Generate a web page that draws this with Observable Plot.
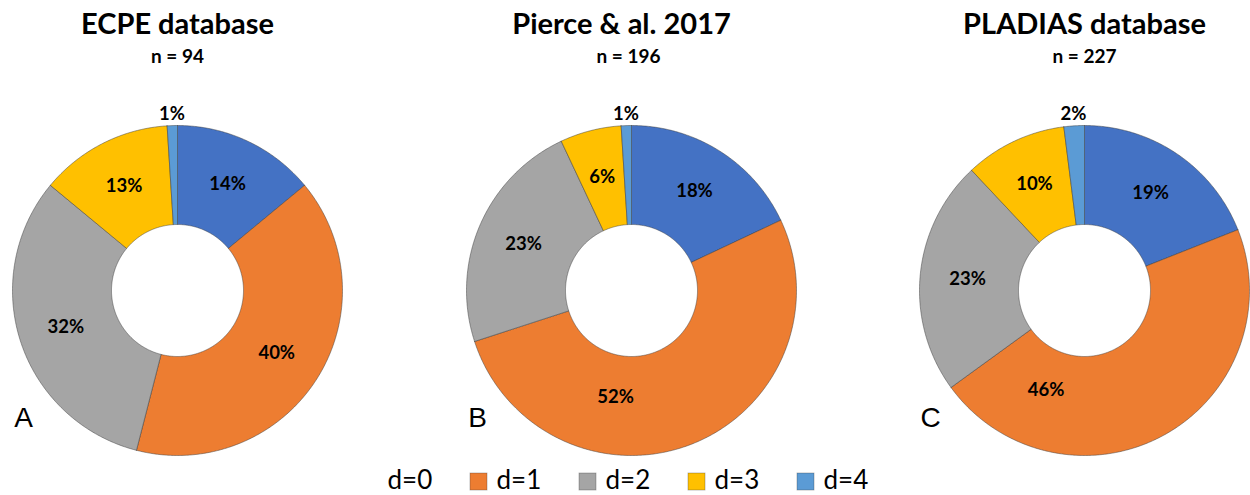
<!DOCTYPE html>
<html>
<head>
<meta charset="utf-8">
<script src="https://cdn.jsdelivr.net/npm/d3@7"></script>
<script src="https://cdn.jsdelivr.net/npm/@observablehq/plot@0.6"></script>
<style>
  html, body { margin: 0; padding: 0; background: #fff; }
  #chart { width: 1250px; height: 495px; }
</style>
</head>
<body>
<div id="chart"></div>
<script>
// ---- data ----
const panelTitles = ["ECPE database", "Pierce & al. 2017", "PLADIAS database"];
const sampleSizes = [94, 196, 227];
const panelLetters = ["A", "B", "C"];
const categories = ["d=0", "d=1", "d=2", "d=3", "d=4"];
const colors = ["#4472C4", "#ED7D31", "#A5A5A5", "#FFC000", "#5B9BD5"];
const ecpeShares = [14, 40, 32, 13, 1];
const pierceShares = [18, 52, 23, 6, 1];
const pladiasShares = [19, 46, 23, 10, 2];

// ---- layout (not data) ----
const W = 1250, H = 495;
const centersX = [177, 631, 1084];
const titleX = [177, 621, 1084];
const cy = 290, R = 165, R0 = 66;
// manual label angle overrides (deg clockwise from top) for moved labels
const labelOverride = {"1-1": {a: 188.5, r: 108}, "2-1": {a: 201, r: 107}};

const seriesList = [ecpeShares, pierceShares, pladiasShares];
const rad = Math.PI / 180;
const pt = (cx, a, r) => [cx + r * Math.sin(a * rad), cy - r * Math.cos(a * rad)];

const slicePts = [];
const labels = [];
seriesList.forEach((vals, p) => {
  const total = d3.sum(vals);
  const cx = centersX[p];
  let acc = 0;
  vals.forEach((v, i) => {
    const a0 = acc / total * 360;
    acc += v;
    const a1 = acc / total * 360;
    const id = p + "-" + i;
    const n = Math.max(2, Math.ceil((a1 - a0) / 0.5));
    const ring = [];
    for (let k = 0; k <= n; k++) ring.push(pt(cx, a0 + (a1 - a0) * k / n, R));
    for (let k = n; k >= 0; k--) ring.push(pt(cx, a0 + (a1 - a0) * k / n, R0));
    ring.push(ring[0]);
    ring.forEach(([x, y]) => slicePts.push({id, key: categories[i], x, y}));
    const mid = (a0 + a1) / 2;
    let lp;
    if (v < 3) lp = pt(cx, mid, R + 12);
    else if (labelOverride[id]) lp = pt(cx, labelOverride[id].a, labelOverride[id].r);
    else lp = pt(cx, mid, (R + R0) / 2 + 2);
    labels.push({x: lp[0], y: lp[1], text: v + "%"});
  });
});

const titles = panelTitles.map((t, p) => ({x: titleX[p], t}));
const subs = sampleSizes.map((n, p) => ({x: centersX[p] - (p === 1 ? 3 : 0), t: "n = " + n}));
const letters = panelLetters.map((l, p) => ({x: centersX[p] - 154, t: l}));

const legendX0 = 361, legendStep = 109;
const legendItems = categories.map((c, i) => ({key: c, x: legendX0 + i * legendStep}));

const chart = Plot.plot({
  width: W, height: H, margin: 0,
  style: {fontFamily: "Lato, 'Open Sans', sans-serif", background: "#fff"},
  x: {domain: [0, W], range: [0, W], axis: null},
  y: {domain: [0, H], range: [0, H], axis: null},
  color: {domain: categories, range: colors},
  marks: [
    Plot.line(slicePts, {x: "x", y: "y", z: "id", fill: "key", stroke: "#3d3d3d", strokeOpacity: 0.55, strokeWidth: 0.9, strokeLinejoin: "round", curve: "linear"}),
    Plot.text(labels, {x: "x", y: "y", text: "text", fontSize: 18.5, fontWeight: "bold", fill: "#000"}),
    Plot.text(titles, {x: "x", y: 24, text: "t", fontSize: 29, fontWeight: "bold", fill: "#000"}),
    Plot.text(subs, {x: "x", y: 56, text: "t", fontSize: 19, fontWeight: "bold", fill: "#000"}),
    Plot.text(letters, {x: "x", y: 418, text: "t", fontSize: 28, fontFamily: "'Liberation Sans', Arial, sans-serif", fill: "#000"}),
    Plot.rect(legendItems.filter(d => d.key !== "d=0"), {x1: "x", x2: d => d.x + 17, y1: 473, y2: 490, fill: "key", stroke: "#3d3d3d", strokeOpacity: 0.4, strokeWidth: 0.8}),
    Plot.text(legendItems, {x: d => d.x + 26, y: 480, text: "key", textAnchor: "start", fontSize: 26, fill: "#000"})
  ]
});
document.getElementById("chart").appendChild(chart);
</script>
</body>
</html>
